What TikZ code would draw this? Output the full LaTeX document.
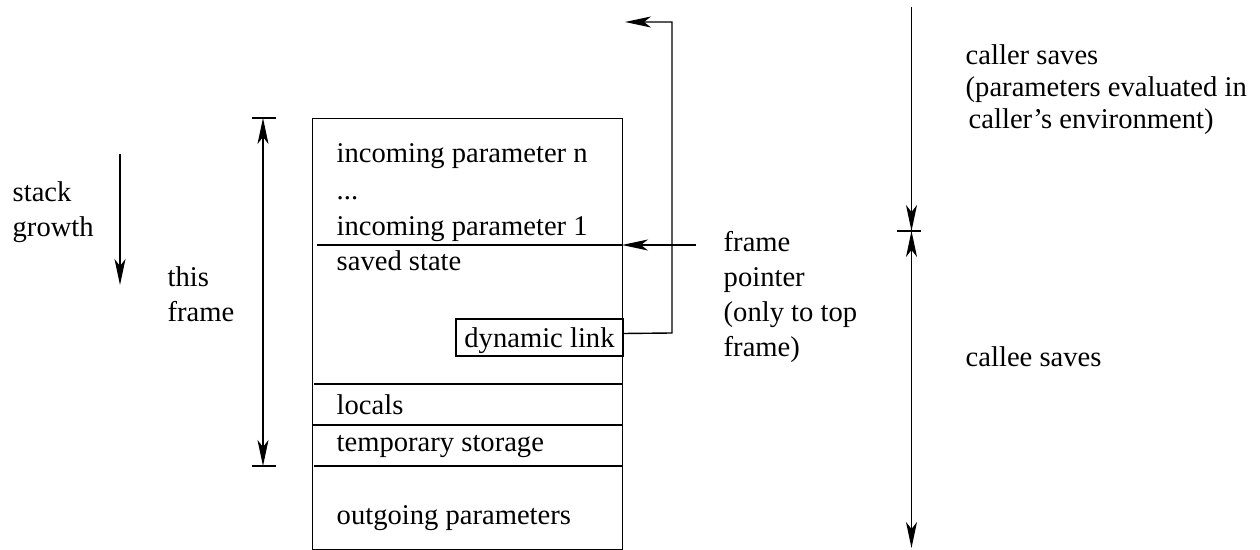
\documentclass[tikz,border=0pt]{standalone}
\usepackage{fontspec}
\setmainfont{Liberation Serif}
\usetikzlibrary{arrows.meta}
\begin{document}
\begin{tikzpicture}[x=0.5pt,y=-0.5pt,
  every path/.style={line width=0.7pt},
  lbl/.style={anchor=base west,inner sep=0pt,font=\fontsize{14.3}{17.5}\selectfont},
  tip/.style={-{Stealth[length=13pt,width=5.5pt,inset=3.5pt]}},
  bothtips/.style={{Stealth[length=13pt,width=5.5pt,inset=3.5pt]}-{Stealth[length=13pt,width=5.5pt,inset=3.5pt]}}]
\useasboundingbox (0,0) rectangle (1260,550);

% activation record outline
\node[draw,inner sep=0pt,minimum width=155pt,minimum height=215.5pt,anchor=north west] (frame) at (312,118) {};

% slot separators
\coordinate (s1l) at (317,245);  \coordinate (s1r) at (622,245);
\coordinate (s2l) at (314,384);  \coordinate (s2r) at (623,384);
\coordinate (s3l) at (312,425);  \coordinate (s3r) at (622,425);
\coordinate (s4l) at (314,466);  \coordinate (s4r) at (622,466);
\draw (s1l) -- (s1r);
\draw (s2l) -- (s2r);
\draw (s3l) -- (s3r);
\draw (s4l) -- (s4r);

% slot contents
\node[lbl] (inN)   at (336,163) {incoming parameter n};
\node[lbl] (dots)  at (336,200) {...};
\node[lbl] (in1)   at (336,236) {incoming parameter 1};
\node[lbl] (saved) at (336,271) {saved state};
\node[lbl] (loc)   at (336,415) {locals};
\node[lbl] (tmp)   at (336,452) {temporary storage};
\node[lbl] (outp)  at (336,525) {outgoing parameters};

% dynamic link field
\node[draw,inner sep=0pt,minimum width=83.5pt,minimum height=18.5pt,
      text height=10.5pt,text depth=0pt,font=\fontsize{14.3}{17.5}\selectfont]
      (dl) at (539.5,337.5) {dynamic link};
\coordinate (dlA) at (672,333);
\coordinate (dlB) at (672,22);
\coordinate (dlC) at (625,22);
\draw[tip] ([yshift=2pt]dl.east) -- (dlA) -- (dlB) -- (dlC);

% frame pointer
\coordinate (fpS) at (696,245);
\draw[tip] (fpS) -- (s1r);
\node[lbl] (fp1) at (723,252) {frame};
\node[lbl] (fp2) at (723,287) {pointer};
\node[lbl] (fp3) at (723,322) {(only to top};
\node[lbl] (fp4) at (723,357) {frame)};

% stack growth
\coordinate (sgT) at (120,154);
\coordinate (sgB) at (120,285);
\draw[tip] (sgT) -- (sgB);
\node[lbl] (sg1) at (12,202) {stack};
\node[lbl] (sg2) at (12,237) {growth};

% extent of this frame
\coordinate (tfTl) at (252,118); \coordinate (tfTr) at (276,118);
\coordinate (tfBl) at (252,466); \coordinate (tfBr) at (276,466);
\coordinate (tfT) at (263,118);  \coordinate (tfB) at (263,466);
\draw (tfTl) -- (tfTr);
\draw (tfBl) -- (tfBr);
\draw[bothtips] (tfT) -- (tfB);
\node[lbl] (tf1) at (167,287) {this};
\node[lbl] (tf2) at (167,322) {frame};

% caller / callee split
\coordinate (csTop) at (911.5,7);
\coordinate (csMid) at (911.5,231);
\coordinate (csBot) at (911.5,548);
\coordinate (csTl) at (897,231); \coordinate (csTr) at (921,231);
\draw[tip] (csTop) -- (csMid);
\draw (csTl) -- (csTr);
\draw[bothtips] (csMid) -- (csBot);
\node[lbl] (cr1) at (965,65)  {caller saves};
\node[lbl] (cr2) at (965,97)  {(parameters evaluated in};
\node[lbl] (cr3) at (968,129) {caller’s environment)};
\node[lbl] (ce1) at (965,367) {callee saves};
\end{tikzpicture}
\end{document}
